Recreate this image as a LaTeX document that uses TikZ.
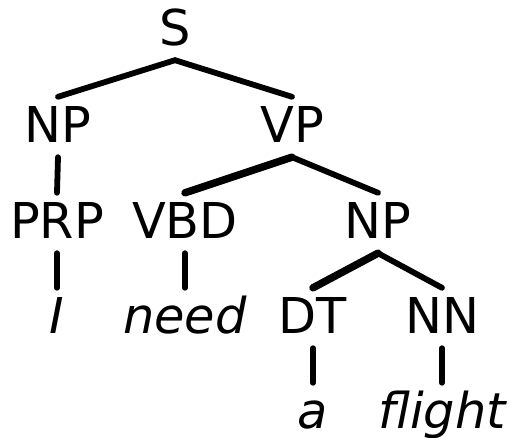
\documentclass[tikz,border=0pt]{standalone}
\usepackage{fontspec}
\setmainfont{DejaVu Sans}
\usetikzlibrary{positioning}

\begin{document}
\begin{tikzpicture}[x=1pt,y=1pt,
    cat/.style={anchor=base,inner xsep=0pt,inner ysep=10pt,text height=36pt,text depth=4pt,
      font=\fontsize{49.4}{50}\selectfont},
    word/.style={cat,font=\fontsize{49.4}{50}\selectfont\itshape},
    edge/.style={line width=5.8pt,line cap=round},
    heavy/.style={edge,line width=7.5pt}]
  \useasboundingbox (0,0) rectangle (511,438);
  % categories
  \node[cat] (s) at (175,392) {S};
  \node[cat] (np) at (58,295) {NP};
  \node[cat] (vp) at (292,295) {VP};
  \node[cat] (prp) at (57,199) {PRP};
  \node[cat] (vbd) at (185,199) {VBD};
  \node[cat] (np2) at (378,199) {NP};
  \node[cat] (dt) at (313,104) {DT};
  \node[cat] (nn) at (442,104) {NN};
  % words
  \node[word] (w1) at (57,104) {I};
  \node[word] (w2) at (185,104) {need};
  \node[word] (w3) at (313,9) {a};
  \node[word] (w4) at (442,9) {flight};
  % branches
  \draw[edge] (np.north) -- (s.south) -- (vp.north);
  \draw[edge] (np.south) -- (prp.north);
  \draw[heavy] (vp.south) -- (vbd.north);
  \draw[edge] (vp.south) -- (np2.north);
  \draw[heavy] (np2.south) -- (dt.north);
  \draw[edge] (np2.south) -- (nn.north);
  \draw[edge] (prp.south) -- (w1.north);
  \draw[edge] (vbd.south) -- (w2.north);
  \draw[edge] (dt.south) -- (w3.north);
  \draw[edge] (nn.south) -- (w4.north);
\end{tikzpicture}
\end{document}
